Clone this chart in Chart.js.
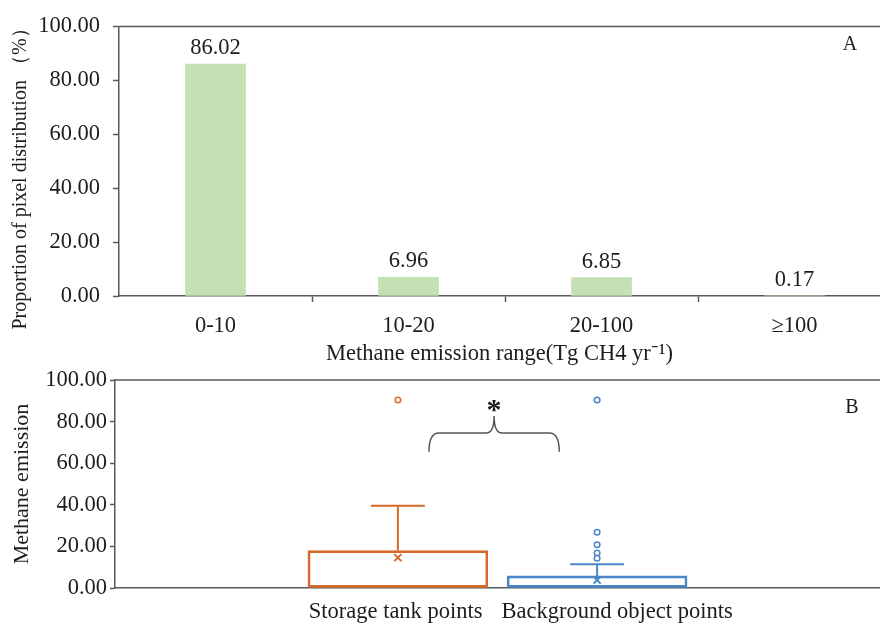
<!DOCTYPE html>
<html>
<head>
<meta charset="utf-8">
<script src="https://cdn.jsdelivr.net/npm/chart.js@4.4.1/dist/chart.umd.min.js"></script>
<style>
  html, body { margin: 0; padding: 0; background: #fff; }
  #wrap { position: relative; width: 880px; height: 624px; overflow: hidden; }
  .panel { position: absolute; left: 0; width: 880px; }
  #panelA { top: 0; height: 370px; }
  #panelB { top: 360px; height: 264px; }
</style>
</head>
<body>
<div id="wrap">
  <div class="panel" id="panelA"><canvas id="chartA"></canvas></div>
  <div class="panel" id="panelB"><canvas id="chartB"></canvas></div>
</div>
<script>
// Panel A: share of pixels per emission range
const rangeLabels = ['0-10', '10-20', '20-100', '≥100']
const pixelShare = [86.02, 6.96, 6.85, 0.17]
const yTicks = [0, 20, 40, 60, 80, 100]

// Panel B: box plot stats per group
const groupLabels = ['Storage tank points', 'Background object points']
const groupX = [1, 2]
const boxLow = [0, 0]
const boxQ1 = [0.3, 0.3]
const boxMedian = [0.9, 0.8]
const boxQ3 = [18.0, 5.8]
const boxHigh = [39.6, 11.4]
const boxMean = [14.6, 3.8]
const storageOutliers = [90.4]
const backgroundOutliers = [90.4, 26.8, 20.8, 16.8, 14.3]

const FONT = "'Liberation Serif', 'Times New Roman', serif"
const INK = '#1c1c1c'
const AXIS = '#595959'
const FS = 22.5
const groupColors = ['#d66a2b', '#4a86c8']

Chart.defaults.font.family = FONT
Chart.defaults.color = INK

function fmt(v) {
  return Number(v).toFixed(2)
}

// sem padding automático nas pontas do eixo x
function fixX(h) {
  return s => {
    s.height = h
    s.paddingLeft = 0
    s.paddingRight = 0
  }
}

// linha no topo da área do gráfico
const topBorder = {
  id: 'topBorder',
  afterDraw(chart) {
    const { ctx, chartArea: a } = chart
    ctx.save()
    ctx.strokeStyle = AXIS
    ctx.lineWidth = 1.5
    ctx.beginPath()
    ctx.moveTo(a.left, a.top)
    ctx.lineTo(a.right, a.top)
    ctx.stroke()
    ctx.restore()
  }
}

const panelA = {
  id: 'panelA',
  afterDatasetsDraw(chart) {
    const { ctx, chartArea: a } = chart
    const meta = chart.getDatasetMeta(0)
    ctx.save()
    ctx.fillStyle = INK
    ctx.font = `${FS}px ${FONT}`
    ctx.textAlign = 'center'
    ctx.textBaseline = 'alphabetic'
    meta.data.forEach((bar, i) => {
      ctx.fillText(fmt(pixelShare[i]), bar.x, bar.y - 10)
    })
    ctx.font = `20px ${FONT}`
    ctx.fillText('A', a.right - 30, a.top + 23)
    // y title
    ctx.translate(21, 174)
    ctx.rotate(-Math.PI / 2)
    ctx.textBaseline = 'middle'
    ctx.fillText('Proportion of pixel distribution （%）', 0, 0)
    ctx.restore()
  }
}

new Chart(document.getElementById('chartA'), {
  type: 'bar',
  data: {
    datasets: [{
      data: pixelShare.map((v, i) => ({ x: i, y: v })),
      backgroundColor: '#c5e0b4',
      barThickness: 60
    }]
  },
  options: {
    responsive: true,
    maintainAspectRatio: false,
    animation: false,
    layout: { autoPadding: false, padding: { top: 22, right: 0, bottom: 0, left: 0 } },
    plugins: { legend: { display: false }, tooltip: { enabled: false } },
    scales: {
      x: {
        type: 'linear',
        offset: false,
        min: -0.5,
        max: 3.443,
        afterBuildTicks: s => { s.ticks = rangeLabels.map((_, i) => ({ value: i })) },
        afterFit: fixX(74),
        ticks: { callback: v => rangeLabels[v], font: { size: FS }, padding: 11, maxRotation: 0, autoSkip: false },
        grid: {
          offset: true,
          drawOnChartArea: false,
          tickLength: 6,
          tickWidth: 1.5,
          color: c => (c.index >= 1 && c.index <= 3) ? AXIS : 'rgba(0,0,0,0)'
        },
        border: { color: AXIS, width: 1.5 },
        title: { display: true, text: 'Methane emission range(Tg CH4 yr⁻¹)', font: { size: FS }, padding: { bottom: 2 } }
      },
      y: {
        min: 0,
        max: 100,
        afterBuildTicks: s => { s.ticks = yTicks.map(v => ({ value: v })) },
        afterFit: s => { s.width = 119 },
        ticks: { callback: v => fmt(v), font: { size: FS }, padding: 13 },
        grid: { drawOnChartArea: false, tickLength: 6, tickWidth: 1.5, color: AXIS },
        border: { color: AXIS, width: 1.5 }
      }
    }
  },
  plugins: [topBorder, panelA]
})

// Panel B
const capHalf = 0.135
const boxHalf = 0.45

function whiskerPoints(i) {
  const x = groupX[i]
  return [
    { x, y: boxQ3[i] }, { x, y: boxHigh[i] }, { x, y: null },
    { x: x - capHalf, y: boxHigh[i] }, { x: x + capHalf, y: boxHigh[i] }, { x, y: null },
    { x, y: boxLow[i] }, { x, y: boxQ1[i] }, { x, y: null },
    { x: x - boxHalf, y: boxMedian[i] }, { x: x + boxHalf, y: boxMedian[i] }
  ]
}

const outlierSets = [storageOutliers, backgroundOutliers]

const datasetsB = [{
  type: 'bar',
  data: groupX.map((x, i) => ({ x, y: [boxQ1[i], boxQ3[i]] })),
  backgroundColor: 'rgba(0,0,0,0)',
  borderColor: groupColors,
  borderWidth: 2,
  borderSkipped: false,
  barThickness: 180
}]

groupX.forEach((x, i) => {
  datasetsB.push({
    type: 'scatter',
    showLine: true,
    data: whiskerPoints(i),
    borderColor: groupColors[i],
    borderWidth: 2,
    pointRadius: 0
  })
  datasetsB.push({
    type: 'scatter',
    data: [{ x, y: boxMean[i] }],
    pointStyle: 'crossRot',
    pointRadius: 5,
    borderColor: groupColors[i],
    borderWidth: 2
  })
  datasetsB.push({
    type: 'scatter',
    data: outlierSets[i].map(v => ({ x, y: v })),
    pointStyle: 'circle',
    pointRadius: 2.8,
    borderColor: groupColors[i],
    backgroundColor: '#fff',
    borderWidth: 1.5
  })
})

// chave de significância entre os grupos
const brace = { x1: 1.156, x2: 1.81, low: 65.5, mid: 74.5, tip: 82.7, star: 88 }

const panelB = {
  id: 'panelB',
  afterDatasetsDraw(chart) {
    const { ctx, chartArea: a, scales: { x, y } } = chart
    const x1 = x.getPixelForValue(brace.x1)
    const x2 = x.getPixelForValue(brace.x2)
    const xc = (x1 + x2) / 2
    const yl = y.getPixelForValue(brace.low)
    const ym = y.getPixelForValue(brace.mid)
    const yt = y.getPixelForValue(brace.tip)
    ctx.save()
    ctx.strokeStyle = '#555'
    ctx.lineWidth = 1.5
    ctx.beginPath()
    ctx.moveTo(x1, yl)
    ctx.quadraticCurveTo(x1, ym, x1 + 10, ym)
    ctx.lineTo(xc - 8, ym)
    ctx.quadraticCurveTo(xc, ym, xc, yt)
    ctx.quadraticCurveTo(xc, ym, xc + 8, ym)
    ctx.lineTo(x2 - 10, ym)
    ctx.quadraticCurveTo(x2, ym, x2, yl)
    ctx.stroke()

    ctx.fillStyle = INK
    ctx.textAlign = 'center'
    ctx.font = `bold 30px ${FONT}`
    ctx.textBaseline = 'alphabetic'
    ctx.fillText('*', xc, y.getPixelForValue(brace.star) + 14)

    ctx.font = `20px ${FONT}`
    ctx.textBaseline = 'middle'
    ctx.fillText('B', a.right - 28, a.top + 28)

    // rótulos das categorias, encostados no meio entre as duas caixas
    const mid = x.getPixelForValue((groupX[0] + groupX[1]) / 2)
    const ly = a.bottom + 24
    ctx.font = `${FS}px ${FONT}`
    ctx.textAlign = 'right'
    ctx.fillText(groupLabels[0], mid - 15, ly)
    ctx.textAlign = 'left'
    ctx.fillText(groupLabels[1], mid + 4, ly)
    ctx.restore()
  }
}

new Chart(document.getElementById('chartB'), {
  type: 'bar',
  data: { datasets: datasetsB },
  options: {
    responsive: true,
    maintainAspectRatio: false,
    animation: false,
    layout: { autoPadding: false, padding: { top: 20, right: 0, bottom: 0, left: 0 } },
    plugins: { legend: { display: false }, tooltip: { enabled: false } },
    scales: {
      x: {
        type: 'linear',
        offset: false,
        min: -0.42,
        max: 3.42,
        afterBuildTicks: s => { s.ticks = groupX.map(v => ({ value: v })) },
        afterFit: fixX(36),
        ticks: { display: false },
        grid: { display: false, drawTicks: false },
        border: { color: AXIS, width: 1.5 }
      },
      y: {
        min: 0,
        max: 100,
        afterBuildTicks: s => { s.ticks = yTicks.map(v => ({ value: v })) },
        afterFit: s => { s.width = 115 },
        ticks: { callback: v => fmt(v), font: { size: FS }, padding: 3 },
        grid: { drawOnChartArea: false, tickLength: 5, tickWidth: 1.5, color: AXIS },
        border: { color: AXIS, width: 1.5 },
        title: { display: true, text: 'Methane emission', font: { size: 22 }, padding: { top: 9 } }
      }
    }
  },
  plugins: [topBorder, panelB]
})
</script>
</body>
</html>
